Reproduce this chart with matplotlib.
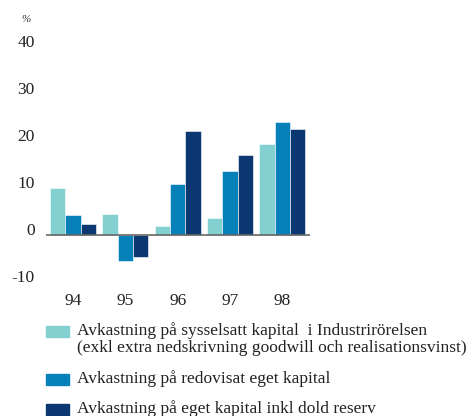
import numpy as np
from matplotlib import pyplot as plt
from matplotlib.patches import Rectangle

years = ["94", "95", "96", "97", "98"]
sysselsatt = [10.0, 4.4, 1.9, 3.6, 19.4]
redovisat = [4.3, -5.5, 10.8, 13.7, 24.0]
dold_reserv = [2.3, -4.6, 22.1, 17.0, 22.6]
colors = ["#82d0d0", "#0680b8", "#0b3870"]
labels = [
    "Avkastning på sysselsatt kapital  i Industrirörelsen\n(exkl extra nedskrivning goodwill och realisationsvinst)",
    "Avkastning på redovisat eget kapital",
    "Avkastning på eget kapital inkl dold reserv",
]
yticks = [-10, 0, 10, 20, 30, 40]
ytick_labels = ["-10", "0", "10", "20", "30", "40"]

plt.rcParams['font.family'] = ['Liberation Serif', 'DejaVu Serif']

W, H = 468, 416
fig = plt.figure(figsize=(W / 100, H / 100), dpi=100)
# axes placed in pixel coordinates
ax = fig.add_axes([45.7 / W, 1 - 291.5 / H, 264.3 / W, (291.5 - 37.35) / H])

x = np.arange(len(years))
bw = 0.293
for i, series in enumerate([sysselsatt, redovisat, dold_reserv]):
    ax.bar(x + (i - 1) * bw, series, width=bw, color=colors[i],
           edgecolor="white", linewidth=0.4)

ax.axhline(0, color="#666666", linewidth=1.2, zorder=3)
ax.set_xlim(-0.522, 4.53)
ax.set_ylim(-12, 42)

for s in ax.spines.values():
    s.set_visible(False)

ax.set_yticks(yticks)
ax.set_yticklabels(ytick_labels, fontsize=12.5, color="#222222")
ax.tick_params(axis="y", length=0, pad=8)
for lab in ax.get_yticklabels():
    lab.set_verticalalignment("baseline")

ax.set_xticks(x)
ax.set_xticklabels(years, fontsize=12.5, color="#222222")
ax.tick_params(axis="x", length=0, pad=1)

fig.text(25.5 / W, 1 - 20 / H, "%", fontsize=8, ha="center", va="center",
         color="#333333", style="italic")

# legend drawn by hand
rows_y = [331, 379, 409]
for c, lab, y in zip(colors, labels, rows_y):
    fig.patches.append(Rectangle((45.7 / W, 1 - (y + 5.5) / H), 23 / W, 11 / H,
                                 transform=fig.transFigure, color=c))
    fig.text(77 / W, 1 - (y - 8.5) / H, lab, fontsize=12.5, ha="left", va="top",
             color="#222222", linespacing=1.02)

fig.savefig("out.png", dpi=100)
